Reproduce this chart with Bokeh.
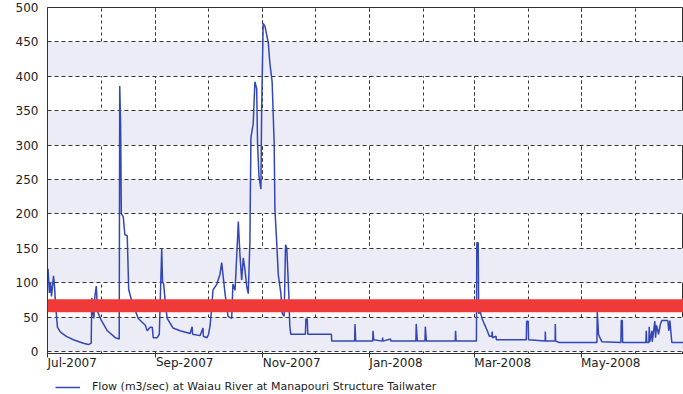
import pandas as pd
from datetime import datetime
from bokeh.plotting import figure
from bokeh.layouts import column
from bokeh.models import (ColumnDataSource, FixedTicker, DatetimeTickFormatter,
                          BoxAnnotation, Legend, LegendItem, Range1d)
from bokeh.embed import file_html
from bokeh.resources import INLINE

# ---- data (approximate) ----
times = [
    "2007-07-01 00:00", "2007-07-01 07:00", "2007-07-02 02:00", "2007-07-02 17:00", "2007-07-03 07:00",
    "2007-07-04 10:00", "2007-07-05 00:00", "2007-07-05 19:00", "2007-07-06 17:00", "2007-07-08 10:00",
    "2007-07-11 19:00", "2007-07-15 19:00", "2007-07-21 12:00", "2007-07-24 10:00", "2007-07-26 00:00",
    "2007-07-26 07:00", "2007-07-26 22:00", "2007-07-27 12:00", "2007-07-28 02:00", "2007-07-28 22:00",
    "2007-07-29 12:00", "2007-07-30 02:00", "2007-07-31 19:00", "2007-08-04 05:00", "2007-08-08 19:00",
    "2007-08-11 00:00", "2007-08-11 07:00", "2007-08-11 19:00", "2007-08-12 05:00", "2007-08-13 07:00",
    "2007-08-14 05:00", "2007-08-15 14:00", "2007-08-16 10:00", "2007-08-18 07:00", "2007-08-21 22:00",
    "2007-08-25 22:00", "2007-08-27 00:00", "2007-08-28 17:00", "2007-08-29 22:00", "2007-08-30 10:00",
    "2007-09-01 17:00", "2007-09-02 22:00", "2007-09-04 07:00", "2007-09-04 19:00", "2007-09-05 10:00",
    "2007-09-06 07:00", "2007-09-07 10:00", "2007-09-09 02:00", "2007-09-10 19:00", "2007-09-14 19:00",
    "2007-09-20 12:00", "2007-09-21 17:00", "2007-09-21 22:00", "2007-09-26 05:00", "2007-09-27 22:00",
    "2007-09-28 02:00", "2007-09-30 05:00", "2007-10-01 02:00", "2007-10-01 22:00", "2007-10-02 22:00",
    "2007-10-03 14:00", "2007-10-05 19:00", "2007-10-07 14:00", "2007-10-08 14:00", "2007-10-09 07:00",
    "2007-10-10 12:00", "2007-10-12 05:00", "2007-10-14 07:00", "2007-10-15 00:00", "2007-10-16 05:00",
    "2007-10-17 05:00", "2007-10-18 02:00", "2007-10-19 00:00", "2007-10-20 00:00", "2007-10-20 22:00",
    "2007-10-21 22:00", "2007-10-22 22:00", "2007-10-23 19:00", "2007-10-24 17:00", "2007-10-25 07:00",
    "2007-10-26 14:00", "2007-10-27 14:00", "2007-10-28 14:00", "2007-10-29 02:00", "2007-10-29 22:00",
    "2007-10-31 00:00", "2007-10-31 10:00", "2007-11-01 07:00", "2007-11-02 07:00", "2007-11-04 05:00",
    "2007-11-05 02:00", "2007-11-06 10:00", "2007-11-07 14:00", "2007-11-08 00:00", "2007-11-09 00:00",
    "2007-11-09 22:00", "2007-11-11 10:00", "2007-11-12 05:00", "2007-11-13 07:00", "2007-11-14 02:00",
    "2007-11-14 19:00", "2007-11-16 00:00", "2007-11-16 12:00", "2007-11-17 02:00", "2007-11-25 10:00",
    "2007-11-25 17:00", "2007-11-26 12:00", "2007-11-26 19:00", "2007-12-10 07:00", "2007-12-10 12:00",
    "2007-12-23 14:00", "2007-12-23 19:00", "2007-12-24 05:00", "2008-01-02 22:00", "2008-01-03 02:00",
    "2008-01-03 12:00", "2008-01-08 10:00", "2008-01-08 14:00", "2008-01-08 19:00", "2008-01-13 02:00",
    "2008-01-13 07:00", "2008-01-27 14:00", "2008-01-27 19:00", "2008-01-28 10:00", "2008-02-01 19:00",
    "2008-02-02 00:00", "2008-02-02 14:00", "2008-02-19 02:00", "2008-02-19 07:00", "2008-02-19 14:00",
    "2008-03-02 05:00", "2008-03-02 10:00", "2008-03-03 05:00", "2008-03-03 12:00", "2008-03-04 07:00",
    "2008-03-05 10:00", "2008-03-06 17:00", "2008-03-08 10:00", "2008-03-09 14:00", "2008-03-11 00:00",
    "2008-03-11 05:00", "2008-03-11 10:00", "2008-03-13 10:00", "2008-03-13 14:00", "2008-03-30 17:00",
    "2008-03-30 22:00", "2008-03-31 19:00", "2008-04-01 00:00", "2008-04-10 12:00", "2008-04-10 14:00",
    "2008-04-10 19:00", "2008-04-16 05:00", "2008-04-16 07:00", "2008-04-16 12:00", "2008-04-18 12:00",
    "2008-05-10 02:00", "2008-05-10 07:00", "2008-05-11 00:00", "2008-05-11 19:00", "2008-05-13 00:00",
    "2008-05-23 19:00", "2008-05-24 00:00", "2008-05-24 14:00", "2008-05-24 19:00", "2008-06-07 02:00",
    "2008-06-07 07:00", "2008-06-07 14:00", "2008-06-08 19:00", "2008-06-09 00:00", "2008-06-09 07:00",
    "2008-06-10 12:00", "2008-06-10 17:00", "2008-06-12 05:00", "2008-06-12 14:00", "2008-06-13 05:00",
    "2008-06-14 07:00", "2008-06-15 10:00", "2008-06-16 05:00", "2008-06-19 14:00", "2008-06-20 05:00",
    "2008-06-20 19:00", "2008-06-21 22:00", "2008-06-30 00:00",
]
flow = [
    115, 120, 85, 100, 80,
    110, 95, 62, 35, 28,
    22, 17, 12, 10, 12,
    78, 55, 48, 80, 95,
    60, 55, 45, 30, 20,
    18, 386, 330, 200, 196,
    170, 168, 90, 72, 48,
    38, 30, 35, 35, 20,
    20, 25, 150, 100, 98,
    72, 48, 41, 34, 30,
    26, 36, 25, 23, 34,
    22, 20, 25, 37, 65,
    89, 98, 112, 129, 112,
    84, 51, 48, 98, 89,
    141, 189, 141, 104, 136,
    118, 94, 84, 160, 311,
    331, 392, 382, 302, 254,
    236, 349, 477, 473, 449,
    420, 392, 302, 207, 160,
    112, 84, 55, 51, 155,
    150, 80, 37, 25, 25,
    47, 47, 25, 25, 15,
    15, 40, 15, 15, 30,
    17, 15, 20, 15, 18,
    15, 15, 40, 15, 15,
    36, 15, 15, 30, 15,
    15, 158, 158, 55, 58,
    48, 40, 30, 22, 22,
    29, 20, 22, 17, 17,
    44, 44, 17, 15, 29,
    15, 15, 40, 15, 13,
    13, 58, 25, 20, 14,
    13, 45, 45, 13, 13,
    30, 13, 13, 36, 14,
    30, 14, 44, 20, 38,
    25, 40, 45, 45, 30,
    45, 13, 13,
]
label_months = ["2007-07-01", "2007-09-01", "2007-11-01", "2008-01-01", "2008-03-01", "2008-05-01"]
grid_months = ["2007-07-01", "2007-08-01", "2007-09-01", "2007-10-01", "2007-11-01", "2007-12-01",
               "2008-01-01", "2008-02-01", "2008-03-01", "2008-04-01", "2008-05-01", "2008-06-01"]
y_ticks = [0, 50, 100, 150, 200, 250, 300, 350, 400, 450, 500]
highlight_low, highlight_high = 57, 76
series_label = "Flow (m3/sec) at Waiau River at Manapouri Structure Tailwater"

LINE_COLOR = "#3346b8"
FONT = "DejaVu Sans"


def ms(s):
    return pd.Timestamp(s).value / 1e6


src = ColumnDataSource(dict(t=pd.to_datetime(times), flow=flow))

p = figure(frame_width=636, frame_height=346, x_axis_type="datetime",
           x_range=Range1d(datetime(2007, 7, 1), datetime(2008, 6, 28, 14)),
           y_range=Range1d(-3, 500),
           output_backend="svg", toolbar_location=None,
           min_border_left=47, min_border_right=0, min_border_top=7, min_border_bottom=0,
           background_fill_color="white", border_fill_color="white")
p.outline_line_color = "#333333"
p.outline_line_width = 1

# grids
p.ygrid.ticker = FixedTicker(ticks=y_ticks)
p.yaxis.ticker = FixedTicker(ticks=y_ticks)
p.ygrid.grid_line_color = "#333333"
p.ygrid.grid_line_dash = "4 3"
p.ygrid.grid_line_width = 1
p.ygrid.band_fill_color = "#ececf7"
p.ygrid.band_fill_alpha = 1

xt = FixedTicker(ticks=[ms(m) for m in label_months], minor_ticks=[ms(m) for m in grid_months])
p.xaxis.ticker = xt
p.xgrid.ticker = xt
p.xgrid.grid_line_color = "#333333"
p.xgrid.grid_line_dash = "3 3"
p.xgrid.minor_grid_line_color = "#333333"
p.xgrid.minor_grid_line_dash = "3 3"

fmt = "%b-%Y"
p.xaxis.formatter = DatetimeTickFormatter(days=fmt, months=fmt, years=fmt, hours=fmt, hourmin=fmt,
                                          minutes=fmt, minsec=fmt, seconds=fmt)

# axes styling
for ax in (p.xaxis[0], p.yaxis[0]):
    ax.axis_line_color = "#333333"
    ax.major_label_text_font = FONT
    ax.major_label_text_font_size = "12px"
    ax.major_label_text_color = "#222222"
    ax.minor_tick_line_color = None

p.yaxis.major_tick_line_color = None
p.yaxis.major_tick_out = 0
p.yaxis.major_tick_in = 0
p.yaxis.major_label_standoff = 9

p.xaxis.major_tick_line_color = "#333333"
p.xaxis.major_tick_out = 4
p.xaxis.major_tick_in = 0
p.xaxis.major_label_standoff = 5
# tiny negative angle -> labels start at their tick (left aligned), as in the reference
p.xaxis.major_label_orientation = -0.0001

p.line("t", "flow", source=src, line_color=LINE_COLOR, line_width=1.5)

# red highlight band
p.add_layout(BoxAnnotation(bottom=highlight_low, top=highlight_high, fill_color="#f03a3a",
                           fill_alpha=1, line_color=None))

# legend strip underneath the chart (same series, ranges keep the line itself out of view)
lg = figure(width=683, height=15, x_axis_type="datetime",
            x_range=p.x_range, y_range=Range1d(1000, 1100),
            output_backend="svg", toolbar_location=None,
            x_axis_location=None, y_axis_location=None,
            min_border_left=0, min_border_right=0, min_border_top=0, min_border_bottom=0,
            background_fill_color="white", border_fill_color="white")
lg.outline_line_color = None
lg.grid.visible = False
r2 = lg.line("t", "flow", source=src, line_color=LINE_COLOR, line_width=1.5)
legend = Legend(items=[LegendItem(label=series_label, renderers=[r2])],
                location=(8, 1), orientation="horizontal",
                padding=0, margin=0, spacing=0,
                border_line_color=None, background_fill_alpha=0,
                glyph_width=25, glyph_height=12, label_height=12, label_standoff=12,
                label_text_font=FONT, label_text_font_size="11px", label_text_color="#222222")
lg.add_layout(legend, "center")

layout = column(p, lg, spacing=0)
open("out.html", "w").write(file_html(layout, INLINE))
